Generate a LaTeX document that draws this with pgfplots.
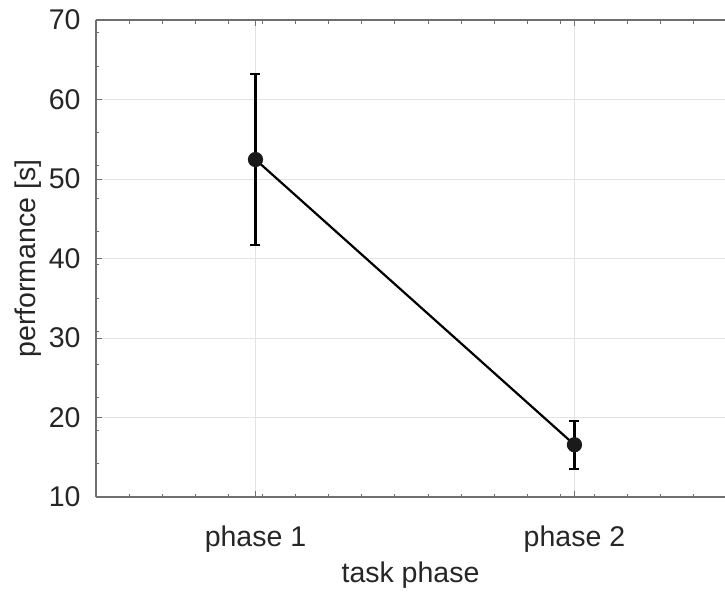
\documentclass[border=0pt]{standalone}
\usepackage{fontspec}
\setmainfont{Liberation Sans}
\usepackage{pgfplots}
\pgfplotsset{compat=1.18}
\definecolor{txt}{HTML}{262626}
\definecolor{gridc}{HTML}{E3E3E3}
\definecolor{spine}{HTML}{6F6F6F}
\definecolor{mk}{HTML}{1A1A1A}
\begin{document}
\begin{tikzpicture}
\begin{axis}[name=ax, scale only axis, width=629bp, height=477bp,
  xmin=0.5, xmax=2.472, ymin=10, ymax=70,
  xtick={1,2}, xticklabels={phase 1, phase 2},
  ytick={10,20,...,70},
  minor xtick={0.6041,0.7082,...,2.47},
  minor ytick={14.17,18.34,...,69.5},
  axis x line*=box, axis y line*=left,
  axis line style={-, spine, line width=1.2bp},
  tick align=inside,
  major tick length=6bp, minor tick length=3.5bp,
  every tick/.style={spine, line width=1bp},
  grid=major,
  major grid style={gridc, line width=0.9bp},
  font=\fontsize{28.5bp}{33bp}\selectfont,
  /pgf/number format/assume math mode=true,
  tick label style={txt, font=\fontsize{28.5bp}{33bp}\selectfont},
  xticklabel style={yshift=-25bp},
  yticklabel style={xshift=-12bp},
  every axis y label/.style={at={(rel axis cs:0,0.5)}, rotate=90, anchor=center, yshift=68bp, txt},
  every axis x label/.style={at={(rel axis cs:0.5,0)}, anchor=center, yshift=-78bp, txt},
  xlabel={task phase}, ylabel={performance [s]},
]
\addplot[black, line width=2.2bp, mark=*, mark size=6.5bp,
  mark options={fill=mk, draw=mk},
  error bars/.cd, y dir=both, y explicit,
  error bar style={black, line width=2.4bp},
  error mark options={rotate=90, mark size=5bp, line width=2.2bp, black}]
  coordinates {(1,52.45) +- (0,10.75) (2,16.57) +- (0,3.0)};
\end{axis}
\pgfresetboundingbox
\path ([shift={(-96bp,-98bp)}]ax.south west) rectangle ([shift={(0bp,20bp)}]ax.north east);
\end{tikzpicture}
\end{document}
